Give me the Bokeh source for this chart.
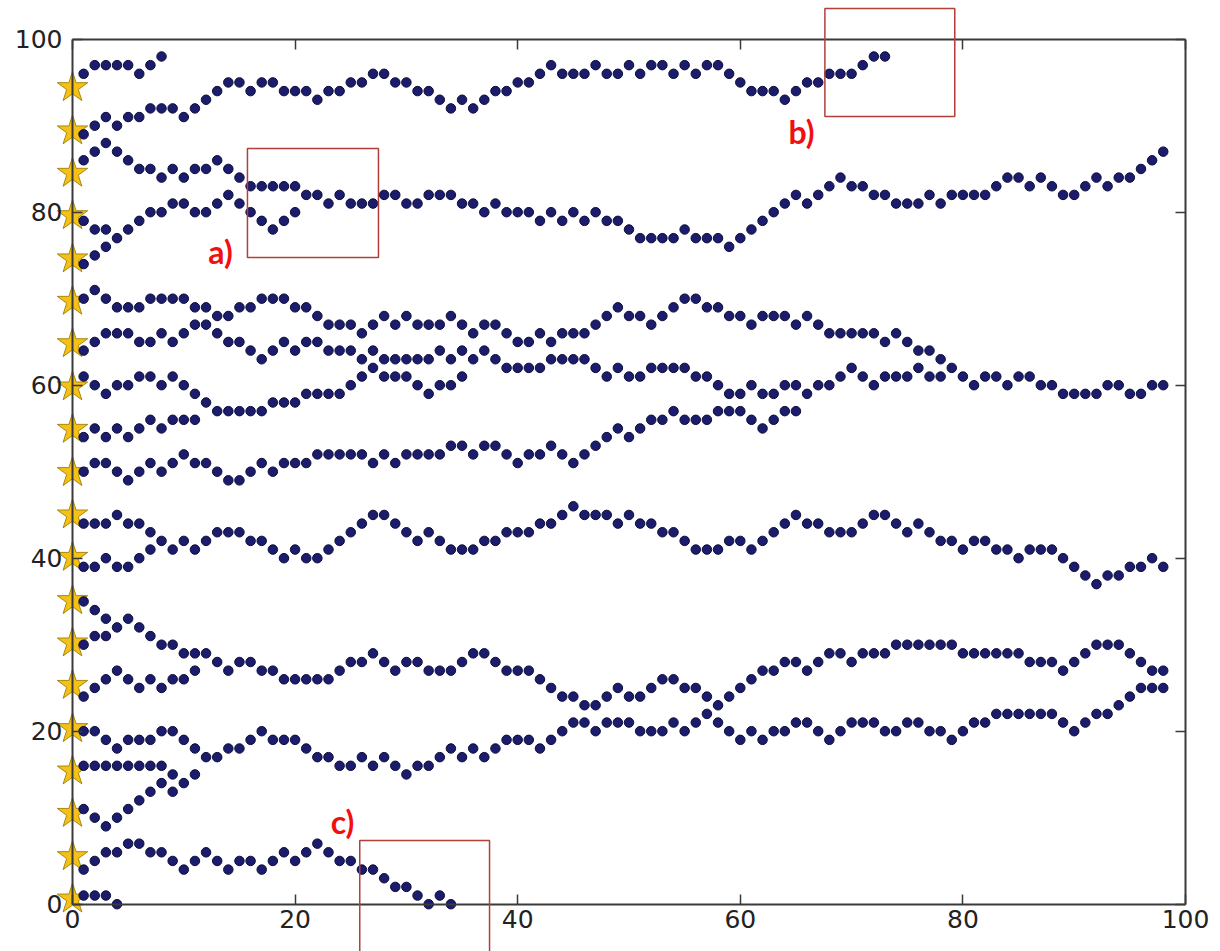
from bokeh.plotting import figure
from bokeh.models import (Range1d, LinearAxis, FixedTicker, BoxAnnotation, Label,
                          ColumnDataSource, CustomJSTickFormatter)
from bokeh.embed import file_html
from bokeh.resources import INLINE

# ---------------- data (y value of each walker at x = 1, 2, 3, ...) ----------------
# starting points (stars, drawn at x = 0)
start_y = [0.6, 5.5, 10.5, 15.4, 20.3, 25.3, 30.2, 35.1, 40.1, 45.0,
           49.9, 54.9, 59.8, 64.8, 69.7, 74.6, 79.6, 84.5, 89.4, 94.4]

walk_00 = [1, 1, 1, 0]
walk_05 = [4, 5, 6, 6, 7, 7, 6, 6, 5, 4, 5, 6, 5, 4, 5, 5, 4, 5, 6, 5, 6, 7, 6, 5, 5, 4, 4, 3, 2, 2,
           1, 0, 1, 0]
walk_10 = [11, 10, 9, 10, 11, 12, 13, 14, 13]
walk_15 = [16, 16, 16, 16, 16, 16, 16, 16, 15, 14, 15]
walk_20 = [20, 20, 19, 18, 19, 19, 19, 20, 20, 19, 18, 17, 17, 18, 18, 19, 20, 19, 19, 19,
           18, 17, 17, 16, 16, 17, 16, 17, 16, 15, 16, 16, 17, 18, 17, 18, 17, 18, 19, 19,
           19, 18, 19, 20, 21, 21, 20, 21, 21, 21, 20, 20, 20, 21, 20, 21, 22, 21, 20, 19,
           20, 19, 20, 20, 21, 21, 20, 19, 20, 21, 21, 21, 20, 20, 21, 21, 20, 20, 19, 20,
           21, 21, 22, 22, 22, 22, 22, 22, 21, 20, 21, 22, 22, 23, 24, 25, 25, 25]
walk_25 = [24, 25, 26, 27, 26, 25, 26, 25, 26, 26, 27]
walk_30 = [30, 31, 31]
walk_35 = [35, 34, 33, 32, 33, 32, 31, 30, 30, 29, 29, 29, 28, 27, 28, 28, 27, 27, 26, 26,
           26, 26, 26, 27, 28, 28, 29, 28, 27, 28, 28, 27, 27, 27, 28, 29, 29, 28, 27, 27,
           27, 26, 25, 24, 24, 23, 23, 24, 25, 24, 24, 25, 26, 26, 25, 25, 24, 23, 24, 25,
           26, 27, 27, 28, 28, 27, 28, 29, 29, 28, 29, 29, 29, 30, 30, 30, 30, 30, 30, 29,
           29, 29, 29, 29, 29, 28, 28, 28, 27, 28, 29, 30, 30, 30, 29, 28, 27, 27]
walk_40 = [39, 39, 40, 39, 39, 40, 41]
walk_45 = [44, 44, 44, 45, 44, 44, 43, 42, 41, 42, 41, 42, 43, 43, 43, 42, 42, 41, 40, 41,
           40, 40, 41, 42, 43, 44, 45, 45, 44, 43, 42, 43, 42, 41, 41, 41, 42, 42, 43, 43,
           43, 44, 44, 45, 46, 45, 45, 45, 44, 45, 44, 44, 43, 43, 42, 41, 41, 41, 42, 42,
           41, 42, 43, 44, 45, 44, 44, 43, 43, 43, 44, 45, 45, 44, 43, 44, 43, 42, 42, 41,
           42, 42, 41, 41, 40, 41, 41, 41, 40, 39, 38, 37, 38, 38, 39, 39, 40, 39]
walk_50 = [50, 51, 51, 50, 49, 50, 51, 50, 51, 52, 51, 51, 50, 49, 49, 50, 51, 50, 51, 51,
           51, 52, 52, 52, 52, 52, 51, 52, 51, 52, 52, 52, 52, 53, 53, 52, 53, 53, 52, 51,
           52, 52, 53, 52, 51, 52, 53, 54, 55, 54, 55, 56, 56, 57, 56, 56, 56, 57, 57, 57,
           56, 55, 56, 57, 57]
walk_55 = [54, 55, 54, 55, 54, 55, 56, 55, 56, 56, 56]
walk_60 = [61, 60, 59, 60, 60, 61, 61, 60, 61, 60, 59, 58, 57, 57, 57, 57, 57, 58, 58, 58,
           59, 59, 59, 59, 60, 61, 62, 61, 61, 61, 60, 59, 60, 60, 61]
walk_65 = [64, 65, 66, 66, 66, 65, 65, 66, 65, 66, 67, 67, 66, 65, 65, 64, 63, 64, 65, 64,
           65, 65, 64, 64, 64, 63, 64, 63, 63, 63, 63, 63, 64, 63, 64, 63, 64, 63, 62, 62,
           62, 62, 63, 63, 63, 63, 62, 61, 62, 61, 61, 62, 62, 62, 62, 61, 61, 60, 59, 59,
           60, 59, 59, 60, 60, 59, 60, 60, 61, 62, 61, 60, 61, 61, 61, 62, 61, 61, 62, 61,
           60, 61, 61, 60, 61, 61, 60, 60, 59, 59, 59, 59, 60, 60, 59, 59, 60, 60]
walk_70 = [70, 71, 70, 69, 69, 69, 70, 70, 70, 70, 69, 69, 68, 68, 69, 69, 70, 70, 70, 69,
           69, 68, 67, 67, 67, 66, 67, 68, 67, 68, 67, 67, 67, 68, 67, 66, 67, 67, 66, 65,
           65, 66, 65, 66, 66, 66, 67, 68, 69, 68, 68, 67, 68, 69, 70, 70, 69, 69, 68, 68,
           67, 68, 68, 68, 67, 68, 67, 66, 66, 66, 66, 66, 65, 66, 65, 64, 64, 63]
walk_75 = [74, 75, 76]
walk_80 = [79, 78, 78, 77, 78, 79, 80, 80, 81, 81, 80, 80, 81, 82, 81, 80, 79, 78, 79, 80]
walk_85 = [86, 87, 88, 87, 86, 85, 85, 84, 85, 84, 85, 85, 86, 85, 84, 83, 83, 83, 83, 83,
           82, 82, 81, 82, 81, 81, 81, 82, 82, 81, 81, 82, 82, 82, 81, 81, 80, 81, 80, 80,
           80, 79, 80, 79, 80, 79, 80, 79, 79, 78, 77, 77, 77, 77, 78, 77, 77, 77, 76, 77,
           78, 79, 80, 81, 82, 81, 82, 83, 84, 83, 83, 82, 82, 81, 81, 81, 82, 81, 82, 82,
           82, 82, 83, 84, 84, 83, 84, 83, 82, 82, 83, 84, 83, 84, 84, 85, 86, 87]
walk_90 = [89, 90, 91, 90, 91, 91, 92, 92, 92, 91, 92, 93, 94, 95, 95, 94, 95, 95, 94, 94,
           94, 93, 94, 94, 95, 95, 96, 96, 95, 95, 94, 94, 93, 92, 93, 92, 93, 94, 94, 95,
           95, 96, 97, 96, 96, 96, 97, 96, 96, 97, 96, 97, 97, 96, 97, 96, 97, 97, 96, 95,
           94, 94, 94, 93, 94, 95, 95, 96, 96, 96, 97, 98, 98]
walk_95 = [96, 97, 97, 97, 97, 96, 97, 98]

walks = [walk_00, walk_05, walk_10, walk_15, walk_20, walk_25, walk_30, walk_35, walk_40,
         walk_45, walk_50, walk_55, walk_60, walk_65, walk_70, walk_75, walk_80, walk_85,
         walk_90, walk_95]

axis_ticks = [0, 20, 40, 60, 80, 100]

# ---------------- layout (pixel geometry of the reference) ----------------
W, H = 1220, 951
PX_X0, PX_X100 = 72.0, 1185.0
PX_Y0, PX_Y100 = 903.7, 38.7
ux = (PX_X100 - PX_X0) / 100.0
uy = (PX_Y0 - PX_Y100) / 100.0

p = figure(width=W, height=H, output_backend="svg", toolbar_location=None,
           x_range=Range1d(-PX_X0 / ux, (W - PX_X0) / ux),
           y_range=Range1d(-(H - PX_Y0) / uy, PX_Y0 / uy),
           x_axis_location=None, y_axis_location=None, min_border=0)
p.outline_line_color = None
p.xgrid.visible = False
p.ygrid.visible = False
p.background_fill_color = "white"
p.border_fill_color = "white"

AX_COLOR = "#3a3a3a"


def make_axis(loc, show_labels, standoff):
    ax = LinearAxis(fixed_location=loc, bounds=(0, 100),
                    ticker=FixedTicker(ticks=axis_ticks),
                    axis_line_color=AX_COLOR, axis_line_width=2,
                    major_tick_line_color=AX_COLOR, major_tick_line_width=1.5,
                    major_tick_in=10, major_tick_out=0,
                    minor_tick_line_color=None,
                    major_label_text_font="DejaVu Sans",
                    major_label_text_font_size="25px",
                    major_label_text_color="#222222",
                    major_label_standoff=standoff)
    if not show_labels:
        ax.formatter = CustomJSTickFormatter(code="return ''")
    return ax


p.add_layout(make_axis(0, True, 6), "below")
p.add_layout(make_axis(0, True, 10), "left")
p.add_layout(make_axis(100, False, 0), "above")
p.add_layout(make_axis(100, False, 0), "right")

# walkers' dots
xs, ys = [], []
for w in walks:
    xs.extend(range(1, len(w) + 1))
    ys.extend(w)

# starting stars
p.scatter(x=[0] * len(start_y), y=start_y, marker="star", size=32,
          fill_color="#f6c116", line_color="#a8880e", line_width=1)
p.scatter(x="x", y="y", source=ColumnDataSource(dict(x=xs, y=ys)), size=9.5,
          fill_color="#1c1c6c", line_color="#0c0c3c", line_width=1)

# annotation boxes
BOX_COLOR = "#b0403a"
for l, r, b, t in [(15.72, 27.49, 74.76, 87.36), (67.6, 79.27, 91.06, 103.55),
                   (25.81, 37.47, -6.5, 7.36)]:
    p.add_layout(BoxAnnotation(left=l, right=r, bottom=b, top=t, fill_color=None,
                               line_color=BOX_COLOR, line_alpha=1.0, line_width=1.5))

for tx, ty, txt in [(13.3, 75.46, "a)"), (65.5, 89.33, "b)"), (24.26, 9.56, "c)")]:
    p.add_layout(Label(x=tx, y=ty, text=txt, text_color="#f01010", text_font="Lato",
                       text_font_style="bold", text_font_size="32px",
                       text_align="center", text_baseline="middle"))

open("out.html", "w").write(file_html(p, INLINE))
